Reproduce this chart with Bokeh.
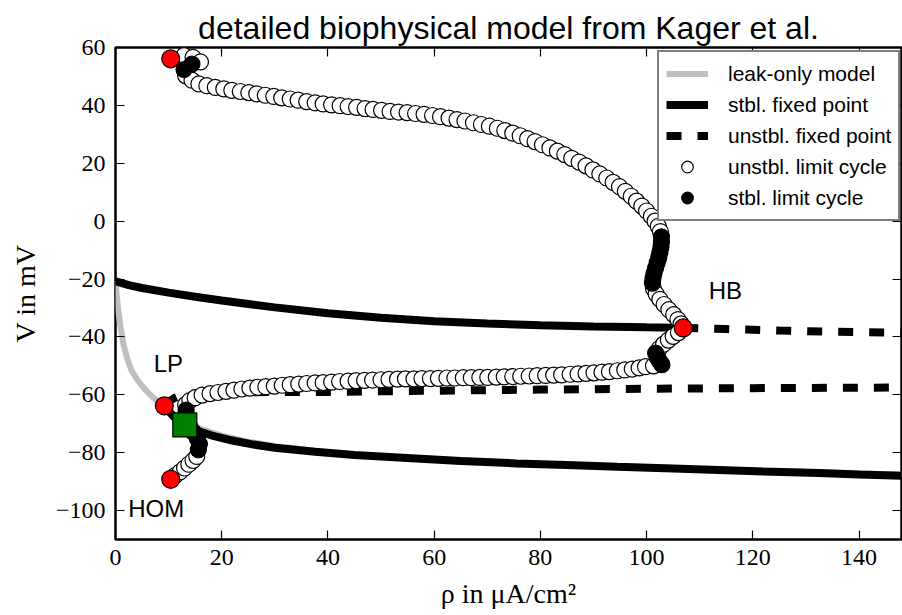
from bokeh.plotting import figure
from bokeh.models import Range1d, LinearAxis, FixedTicker, Legend, LegendItem, CustomJSTickFormatter
from bokeh.embed import file_html
from bokeh.resources import INLINE
from bokeh.core.properties import value

# ---------------- data ----------------
x_ticks = [0, 20, 40, 60, 80, 100, 120, 140]
y_ticks = [-100, -80, -60, -40, -20, 0, 20, 40, 60]

leak_rho = [0, 0.3, 0.6, 1.0, 1.5, 2.2, 3.0, 4.1, 5.3, 6.6, 8.5, 10.5, 13, 16, 20, 25, 30, 40, 50, 60, 80, 100, 120, 148]
leak_V = [-20.8, -27, -32, -37, -42.5, -47.5, -51.5, -54.8, -57.6, -60.1, -63.3, -66.3, -69.3, -71.8, -74.1, -76.2,
          -77.7, -79.9, -81.3, -82.3, -83.9, -85.1, -86.2, -87.5]

stbl_up_rho = [0, 2.5, 5, 10, 15, 20, 25, 30, 40, 50, 60, 70, 80, 90, 100, 106.9]
stbl_up_V = [-20.8, -22.1, -23.1, -24.7, -26.1, -27.4, -28.6, -29.8, -31.8, -33.4, -34.6, -35.4, -36.0, -36.4, -36.7, -36.9]

stbl_low_rho = [9.2, 10, 11, 12, 13, 15, 18, 22, 26, 30, 37.6, 45, 56.6, 65, 75.5, 85, 94.5, 105, 113.5, 122, 132.4, 140, 148]
stbl_low_V = [-63.8, -65.6, -67.6, -69.1, -70.4, -72.2, -74.0, -75.8, -77.2, -78.3, -79.7, -80.8, -82.0, -82.9, -83.7,
              -84.3, -84.9, -85.5, -86.0, -86.5, -87.0, -87.5, -88.0]

unst_hb_rho = [106.9, 115, 125, 135, 148]
unst_hb_V = [-36.9, -37.3, -37.8, -38.2, -38.6]

unst_mid_rho = [9.2, 10, 11, 12.5, 15, 20, 30, 40, 50, 60, 80, 100, 120, 148]
unst_mid_V = [-63.8, -62.4, -61.2, -60.0, -59.5, -59.2, -59.0, -59.0, -58.8, -58.6, -58.2, -57.9, -57.7, -57.5]

# unstable limit cycle, maximum of V
ulc_max_rho = [12.9, 14.6, 16.0, 13.2, 14.4, 15.7, 17.2, 18.8, 20.4, 21.9, 23.5, 25.1, 26.6, 28.2, 29.8, 31.3, 32.9, 34.4,
               36.0, 37.6, 39.1, 40.7, 42.3, 43.8, 45.4, 47.0, 48.5, 50.1, 51.7, 53.3, 54.9, 56.5, 58.1, 59.7, 61.2, 62.8,
               64.3, 65.8, 67.4, 68.9, 70.4, 71.9, 73.3, 74.8, 76.2, 77.6, 79.0, 80.4, 81.8, 83.2, 84.6, 85.9, 87.3, 88.6,
               89.9, 91.2, 92.5, 93.7, 94.9, 96.0, 97.1, 98.1, 99.1, 100.0, 100.9, 101.6, 102.2, 102.6,
               101.3, 101.8, 102.5, 103.3, 104.2, 105.1, 105.9, 106.5]
ulc_max_V = [57.2, 56.6, 55.0, 50.3, 48.7, 47.4, 46.8, 46.2, 45.7, 45.2, 44.8, 44.4, 44.0, 43.5, 43.1, 42.6, 42.2, 41.8,
             41.3, 40.9, 40.5, 40.2, 39.9, 39.6, 39.3, 38.9, 38.6, 38.3, 37.9, 37.7, 37.5, 37.2, 36.9, 36.5, 36.1, 35.6,
             35.1, 34.6, 34.0, 33.4, 32.8, 32.1, 31.3, 30.4, 29.5, 28.5, 27.5, 26.4, 25.3, 24.2, 23.0, 21.7, 20.4, 19.1,
             17.7, 16.3, 14.9, 13.4, 11.9, 10.3, 8.6, 6.9, 5.2, 3.5, 1.7, 0.0, -1.8, -3.6,
             -23.3, -25.2, -27.0, -28.8, -30.6, -32.3, -34.0, -35.5]

# unstable limit cycle, minimum of V
ulc_min_rho = [11.3, 12.2, 13.0, 13.8, 14.6, 15.3,
               13.2, 14.0, 15.0, 16.3, 17.8, 19.3, 20.8, 22.3, 23.8, 25.3, 26.8, 28.3, 29.9, 31.4, 32.9, 34.5, 36.0,
               37.6, 39.1, 40.7, 42.2, 43.8, 45.3, 46.9, 48.4, 50.0, 51.5, 53.1, 54.6, 56.2, 57.7, 59.3, 60.8, 62.4,
               63.9, 65.5, 67.0, 68.6, 70.1, 71.7, 73.2, 74.8, 76.3, 77.9, 79.4, 81.0, 82.5, 84.0, 85.6, 87.1, 88.6,
               90.1, 91.6, 93.0, 94.5, 95.9, 97.3, 98.6, 99.8, 101.3,
               102.4, 103.2, 104.1, 105.0, 106.0]
ulc_min_V = [-87.8, -86.6, -85.3, -84.0, -82.7, -81.3,
             -63.4, -62.0, -61.0, -60.1, -59.6, -59.2, -58.8, -58.4, -58.0, -57.7, -57.4, -57.2, -57.0, -56.7, -56.5,
             -56.3, -56.1, -55.9, -55.8, -55.6, -55.4, -55.3, -55.1, -55.0, -54.9, -54.8, -54.7, -54.6, -54.5, -54.5,
             -54.4, -54.4, -54.3, -54.2, -54.2, -54.1, -54.1, -54.0, -54.0, -53.9, -53.8, -53.7, -53.6, -53.5, -53.4,
             -53.3, -53.2, -53.1, -52.9, -52.8, -52.6, -52.4, -52.2, -52.0, -51.7, -51.4, -51.1, -50.7, -50.3, -50.0,
             -44.0, -42.5, -41.1, -39.8, -38.5]

# stable limit cycle
slc_rho = [14.4, 12.9, 102.8, 102.8, 102.7, 102.5, 102.3, 102.0, 101.7, 101.4, 101.2, 101.1,
           15.6, 15.8, 15.4, 14.7, 14.0, 13.4, 13.2, 13.3, 102.9, 102.4, 102.0, 101.7]
slc_V = [54.3, 52.4, -5.4, -7.2, -9.0, -10.8, -12.6, -14.4, -16.2, -18.0, -19.8, -21.4,
         -79.0, -77.0, -75.0, -73.0, -71.0, -69.0, -67.0, -65.3, -49.6, -48.3, -47.0, -45.6]

# bifurcation points (HOM max, LP, HOM min, HB)
bif_rho = [10.4, 9.2, 10.4, 106.9]
bif_V = [56.1, -63.8, -89.2, -36.9]

# resting state marker
rest_rho = [13.05]
rest_V = [-70.4]

label_text = ["LP", "HB", "HOM"]
label_rho = [7.2, 111.7, 2.4]
label_V = [-49.1, -23.8, -99.4]

# ---------------- figure ----------------
p = figure(width=902, height=615, output_backend="svg", toolbar_location=None,
           x_range=Range1d(0, 148), y_range=Range1d(-110, 60),
           min_border_left=115, min_border_right=1, min_border_top=47, min_border_bottom=76,
           background_fill_color="white", border_fill_color="white")
p.xgrid.visible = False
p.ygrid.visible = False
p.outline_line_color = "black"
p.outline_line_width = 2.5

p.title.text = "detailed biophysical model from Kager et al."
p.title.align = "center"
p.title.text_font = "Liberation Sans"
p.title.text_font_size = "32px"
p.title.text_font_style = "normal"
p.title.text_color = "black"
p.title.standoff = 4

SERIF = "Liberation Serif"
y_over = {t: (("\u2212" + str(abs(t))) if t < 0 else str(t)) for t in y_ticks}

def style_axis(ax, ticks, show_labels=True):
    ax.ticker = FixedTicker(ticks=ticks)
    ax.major_tick_in = 9
    ax.major_tick_out = 0
    ax.minor_tick_in = 0
    ax.minor_tick_out = 0
    ax.major_tick_line_color = "black"
    ax.major_tick_line_width = 1.2
    ax.axis_line_color = None
    ax.major_label_text_font = SERIF
    ax.major_label_text_font_size = "24px"
    ax.major_label_text_color = "black"
    ax.major_label_standoff = 10
    ax.axis_label_text_font = SERIF
    ax.axis_label_text_font_size = "28px"
    ax.axis_label_text_font_style = "normal"
    ax.axis_label_text_color = "black"
    if not show_labels:
        ax.formatter = CustomJSTickFormatter(code="return ''")
        ax.major_label_standoff = 0

xa = p.xaxis[0]
ya = p.yaxis[0]
style_axis(xa, x_ticks)
style_axis(ya, y_ticks)
ya.major_label_overrides = y_over
xa.axis_label = "\u03c1 in \u03bcA/cm\u00b2"
ya.axis_label = "V in mV"
xa.axis_label_standoff = 10
ya.axis_label_standoff = 12

top = LinearAxis()
style_axis(top, x_ticks, show_labels=False)
p.add_layout(top, "above")
right = LinearAxis()
style_axis(right, y_ticks, show_labels=False)
p.add_layout(right, "right")

# ---------------- glyphs ----------------
r_leak = p.line(leak_rho, leak_V, line_color="#bfbfbf", line_width=6)
r_stbl = p.line(stbl_up_rho, stbl_up_V, line_color="black", line_width=8)
p.line(stbl_low_rho, stbl_low_V, line_color="black", line_width=8)
r_unst = p.line(unst_hb_rho, unst_hb_V, line_color="black", line_width=8, line_dash="15 16")
p.line(unst_mid_rho, unst_mid_V, line_color="black", line_width=8, line_dash="15 16")

r_ulc = p.scatter(ulc_max_rho, ulc_max_V, marker="circle", size=16, fill_color="white",
                  line_color="black", line_width=1.2)
p.scatter(ulc_min_rho, ulc_min_V, marker="circle", size=16, fill_color="white",
          line_color="black", line_width=1.2)
r_slc = p.scatter(slc_rho, slc_V, marker="circle", size=16, fill_color="black",
                  line_color="black", line_width=1.2)

p.scatter(rest_rho, rest_V, marker="square", size=24, fill_color="#008000", line_color="black", line_width=1.2)
p.scatter(bif_rho, bif_V, marker="circle", size=18, fill_color="#ff0000", line_color="black", line_width=1.2)

p.text(x=label_rho, y=label_V, text=label_text, text_font=value("Liberation Sans"), text_font_size="24px",
       text_align="left", text_baseline="alphabetic", text_color="black")

legend = Legend(items=[
    LegendItem(label="leak-only model", renderers=[r_leak]),
    LegendItem(label="stbl. fixed point", renderers=[r_stbl]),
    LegendItem(label="unstbl. fixed point", renderers=[r_unst]),
    LegendItem(label="unstbl. limit cycle", renderers=[r_ulc]),
    LegendItem(label="stbl. limit cycle", renderers=[r_slc]),
], location=(542, 318))
legend.label_text_font = "Liberation Sans"
legend.label_text_font_size = "21px"
legend.label_text_color = "black"
legend.glyph_width = 42
legend.glyph_height = 29
legend.label_height = 29
legend.spacing = 2
legend.padding = 7
legend.label_standoff = 20
legend.border_line_color = "black"
legend.border_line_width = 2
legend.background_fill_color = "white"
legend.background_fill_alpha = 1
p.add_layout(legend, "center")

open("out.html", "w").write(file_html(p, INLINE))
